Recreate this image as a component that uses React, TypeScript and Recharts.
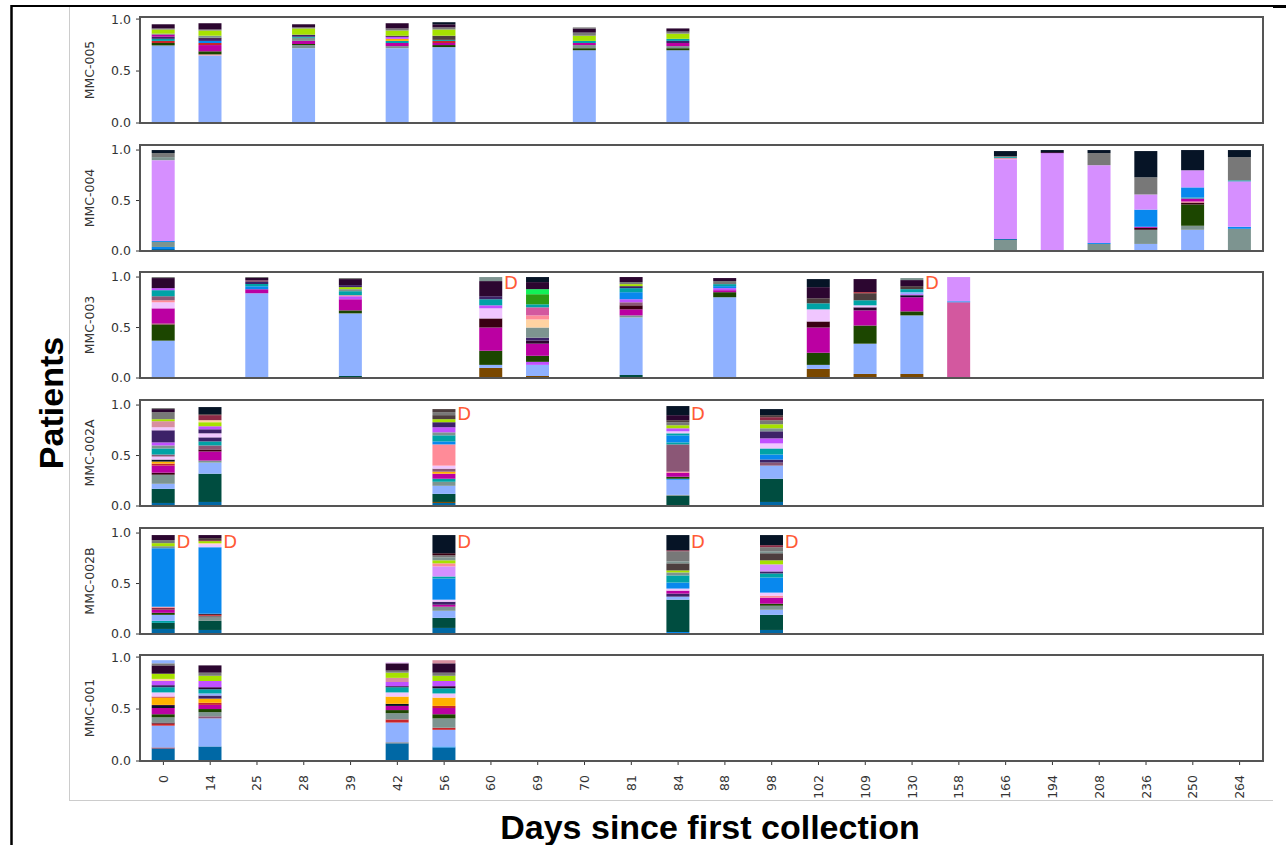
import { BarChart, Bar, XAxis, YAxis, Cell, ReferenceDot } from "recharts";

const days = ["0", "14", "25", "28", "39", "42", "56", "60", "69", "70", "81", "84", "88", "98", "102", "109", "130", "158", "166", "194", "208", "236", "250", "264"];

// one colour per taxon key
const taxonColors: Record<string, string> = {
  lb: "#8fb1ff", li: "#d68fff", nv: "#061426", gy: "#787878", gt: "#7d9490",
  bl: "#0888ee", dg: "#1c4600", mg: "#bb00a2", dp: "#2c0630", lm: "#a6e100",
  or: "#ffb100", tl: "#00a3a6", sp: "#ff8b98", mv: "#8b5776", dt: "#004d40",
  sb: "#0068a5", lp: "#f0c6ff", br: "#7a4800", hp: "#d3589f", gr: "#2c9c14",
  bg: "#11f258", pe: "#ffd3a2", mr: "#8e2a46", rd: "#c8262c", vi: "#c050ff",
  pu: "#3d2268", db: "#4d3e3e", rp: "#d88ea0", mk: "#3a0012",
};

type Seg = [string, number];
type Sample = { day: string; segs: Seg[] };

const mmc005: Sample[] = [
  { day: "0", segs: [["lb", .74], ["gt", .01], ["dg", .02], ["rd", .02], ["tl", .02], ["pu", .02], ["mg", .02], ["gy", .01], ["lm", .04], ["gy", .01], ["dp", .04]] },
  { day: "14", segs: [["lb", .65], ["sp", .01], ["dg", .03], ["mg", .06], ["rd", .02], ["bl", .02], ["pu", .02], ["dp", .01], ["gt", .02], ["lm", .05], ["gy", .01], ["dp", .06]] },
  { day: "28", segs: [["lb", .72], ["gt", .03], ["dg", .01], ["mg", .03], ["gt", .03], ["tl", .01], ["pu", .02], ["lm", .06], ["gy", .01], ["dp", .03]] },
  { day: "42", segs: [["lb", .72], ["gt", .02], ["mg", .03], ["tl", .02], ["or", .02], ["vi", .02], ["dp", .01], ["lm", .05], ["gy", .02], ["dp", .05]] },
  { day: "56", segs: [["lb", .73], ["dg", .02], ["mg", .02], ["rd", .02], ["tl", .01], ["db", .04], ["lm", .06], ["gy", .02], ["dp", .03], ["nv", .02]] },
  { day: "70", segs: [["lb", .70], ["dg", .02], ["gt", .03], ["mg", .02], ["tl", .02], ["lm", .05], ["gy", .03], ["dp", .04], ["gy", .01]] },
  { day: "84", segs: [["lb", .70], ["dg", .02], ["gt", .02], ["mg", .03], ["pu", .02], ["tl", .02], ["lm", .05], ["gy", .02], ["dp", .03]] },
];

const mmc004: Sample[] = [
  { day: "0", segs: [["sb", .02], ["bl", .02], ["gt", .05], ["bl", .01], ["li", .80], ["gt", .03], ["gy", .04], ["nv", .03]] },
  { day: "166", segs: [["gt", .11], ["sb", .01], ["li", .79], ["sp", .01], ["tl", .01], ["gy", .01], ["nv", .05]] },
  { day: "194", segs: [["li", .97], ["dp", .01], ["nv", .02]] },
  { day: "208", segs: [["gt", .07], ["bl", .01], ["li", .77], ["gy", .12], ["nv", .03]] },
  { day: "236", segs: [["bl", .01], ["lb", .06], ["gt", .14], ["mk", .02], ["mg", .01], ["bl", .17], ["li", .15], ["gy", .17], ["nv", .26]] },
  { day: "250", segs: [["lb", .21], ["gt", .04], ["dg", .21], ["mk", .02], ["sp", .01], ["mg", .03], ["tl", .01], ["bl", .10], ["li", .17], ["nv", .20]] },
  { day: "264", segs: [["dt", .01], ["gt", .21], ["bl", .02], ["li", .45], ["tl", .01], ["gy", .23], ["nv", .07]] },
];

const mmc003: Sample[] = [
  { day: "0", segs: [["lb", .37], ["dg", .16], ["mr", .01], ["mg", .15], ["lp", .06], ["sp", .02], ["mv", .04], ["tl", .06], ["vi", .02], ["dp", .10], ["gy", .01]] },
  { day: "25", segs: [["br", .01], ["lb", .83], ["mg", .04], ["bl", .03], ["tl", .02], ["pu", .02], ["mv", .02], ["dp", .02], ["gy", .01]] },
  { day: "39", segs: [["dt", .02], ["lb", .62], ["dg", .03], ["mg", .11], ["vi", .03], ["sp", .01], ["tl", .04], ["gt", .02], ["lm", .02], ["pu", .02], ["dp", .06], ["gy", .01]] },
  { day: "60", segs: [["br", .10], ["lb", .03], ["dg", .14], ["mg", .23], ["mk", .09], ["lp", .10], ["vi", .03], ["tl", .06], ["pu", .03], ["dp", .15], ["gt", .04]] },
  { day: "69", segs: [["br", .02], ["lb", .11], ["vi", .03], ["dg", .06], ["mg", .12], ["dp", .03], ["pu", .03], ["gt", .10], ["pe", .08], ["sp", .04], ["hp", .08], ["tl", .03], ["gr", .10], ["bg", .05], ["dp", .07], ["nv", .05]] },
  { day: "81", segs: [["dt", .03], ["lb", .57], ["gt", .02], ["mg", .06], ["mk", .04], ["mv", .03], ["vi", .03], ["bl", .07], ["tl", .04], ["pu", .02], ["lm", .02], ["gy", .02], ["dp", .05]] },
  { day: "88", segs: [["lb", .80], ["dg", .05], ["mg", .02], ["vi", .02], ["bl", .02], ["tl", .02], ["gy", .03], ["dp", .03]] },
  { day: "102", segs: [["br", .09], ["lb", .04], ["dg", .12], ["mg", .25], ["mk", .06], ["lp", .12], ["tl", .06], ["db", .05], ["dp", .11], ["nv", .08]] },
  { day: "109", segs: [["br", .04], ["lb", .30], ["dg", .18], ["mg", .15], ["dp", .03], ["lp", .02], ["tl", .05], ["db", .07], ["rd", .01], ["dp", .13]] },
  { day: "130", segs: [["br", .04], ["lb", .58], ["dg", .04], ["mg", .14], ["nv", .02], ["vi", .01], ["lb", .02], ["tl", .03], ["db", .03], ["dp", .06], ["gt", .02]] },
  { day: "158", segs: [["hp", .75], ["bl", .01], ["li", .24]] },
];

const mmc002a: Sample[] = [
  { day: "0", segs: [["sb", .03], ["dt", .14], ["lb", .05], ["gt", .09], ["mk", .02], ["mg", .07], ["rd", .02], ["or", .02], ["nv", .02], ["lp", .03], ["mv", .02], ["tl", .06], ["gt", .03], ["vi", .03], ["pu", .12], ["lp", .03], ["rp", .06], ["lm", .02], ["gy", .07], ["dp", .03], ["gy", .01]] },
  { day: "14", segs: [["sb", .04], ["dt", .28], ["lb", .11], ["gt", .02], ["mg", .09], ["mk", .02], ["mv", .04], ["tl", .04], ["pu", .04], ["lp", .04], ["pu", .04], ["vi", .03], ["lm", .04], ["pe", .02], ["mr", .05], ["db", .01], ["nv", .07]] },
  { day: "56", segs: [["sb", .03], ["br", .01], ["dt", .08], ["lb", .08], ["gt", .04], ["tl", .03], ["mg", .05], ["or", .02], ["mv", .03], ["lp", .03], ["sp", .21], ["bl", .03], ["tl", .06], ["gt", .03], ["vi", .05], ["pu", .05], ["lm", .03], ["db", .04], ["gy", .03], ["db", .03]] },
  { day: "84", segs: [["sb", .01], ["dt", .09], ["gt", .01], ["lb", .15], ["bl", .01], ["dg", .02], ["mg", .04], ["sp", .01], ["mv", .27], ["tl", .02], ["bl", .07], ["tl", .02], ["lp", .02], ["vi", .03], ["lm", .03], ["gy", .03], ["db", .02], ["dp", .05], ["nv", .09]] },
  { day: "98", segs: [["sb", .04], ["dt", .23], ["lb", .13], ["mv", .03], ["pu", .03], ["bl", .05], ["tl", .06], ["lp", .05], ["vi", .05], ["pu", .07], ["gt", .03], ["lm", .04], ["gy", .04], ["mr", .03], ["db", .02], ["nv", .06]] },
];

const mmc002b: Sample[] = [
  { day: "0", segs: [["sb", .05], ["dt", .06], ["tl", .02], ["lb", .06], ["dg", .02], ["mg", .03], ["mr", .02], ["sp", .01], ["bl", .58], ["gt", .02], ["lm", .03], ["gy", .03], ["dp", .05]] },
  { day: "14", segs: [["sb", .04], ["dt", .09], ["gt", .03], ["gy", .02], ["rd", .01], ["mk", .01], ["bl", .66], ["lp", .03], ["pe", .01], ["lm", .02], ["mr", .01], ["db", .02], ["dp", .03]] },
  { day: "56", segs: [["sb", .06], ["dt", .10], ["lb", .07], ["gt", .04], ["mg", .02], ["pu", .03], ["lp", .02], ["bl", .21], ["tl", .02], ["li", .10], ["sp", .03], ["lm", .03], ["gt", .03], ["gy", .02], ["mk", .02], ["nv", .18]] },
  { day: "84", segs: [["bl", .02], ["dt", .32], ["lb", .03], ["pu", .03], ["mg", .03], ["lp", .02], ["bl", .06], ["tl", .07], ["gt", .03], ["lm", .02], ["db", .07], ["gt", .02], ["gy", .10], ["mr", .01], ["nv", .15]] },
  { day: "98", segs: [["sb", .04], ["dt", .15], ["lb", .05], ["gt", .04], ["dg", .02], ["mg", .06], ["sp", .02], ["lp", .03], ["bl", .15], ["tl", .04], ["pu", .02], ["li", .07], ["lm", .04], ["db", .07], ["gt", .02], ["gy", .04], ["mr", .02], ["nv", .10]] },
];

const mmc001: Sample[] = [
  { day: "0", segs: [["sb", .12], ["mr", .01], ["lb", .21], ["rd", .02], ["mk", .01], ["gt", .05], ["dg", .03], ["mg", .06], ["nv", .02], ["dp", .01], ["or", .07], ["rd", .01], ["lp", .04], ["tl", .05], ["pu", .02], ["vi", .04], ["pe", .02], ["lm", .05], ["dp", .08], ["gy", .02], ["lb", .03]] },
  { day: "14", segs: [["sb", .14], ["lb", .27], ["mv", .02], ["gt", .04], ["dg", .03], ["mg", .04], ["rd", .02], ["or", .04], ["pu", .03], ["lb", .02], ["tl", .04], ["dp", .02], ["vi", .06], ["lm", .05], ["gy", .03], ["dp", .07]] },
  { day: "42", segs: [["sb", .17], ["gy", .01], ["lb", .19], ["rd", .03], ["gt", .06], ["dg", .03], ["mg", .04], ["nv", .02], ["or", .07], ["lp", .04], ["tl", .05], ["dp", .01], ["vi", .04], ["rp", .04], ["lm", .05], ["gy", .02], ["dp", .07], ["lp", .01]] },
  { day: "56", segs: [["sb", .13], ["bl", .01], ["lb", .16], ["rd", .02], ["gt", .09], ["dg", .04], ["mg", .06], ["rd", .02], ["or", .08], ["lp", .04], ["tl", .05], ["dp", .02], ["vi", .05], ["lm", .05], ["gy", .03], ["dp", .09], ["rp", .03]] },
];

// days flagged "D"
const dMarks003 = ["60", "130"];
const dMarks002a = ["56", "84"];
const dMarks002b = ["0", "14", "56", "84", "98"];

const PH = 106;
const MT = 10;
const panelTops = [17, 145, 272, 400, 528, 655];

const panels = [
  { name: "MMC-005", samples: mmc005, marks: [] as string[], max: 1.02, markY: 0.95 },
  { name: "MMC-004", samples: mmc004, marks: [] as string[], max: 1.05, markY: 0.95 },
  { name: "MMC-003", samples: mmc003, marks: dMarks003, max: 1.05, markY: 0.95 },
  { name: "MMC-002A", samples: mmc002a, marks: dMarks002a, max: 1.05, markY: 0.92 },
  { name: "MMC-002B", samples: mmc002b, marks: dMarks002b, max: 1.05, markY: 0.92 },
  { name: "MMC-001", samples: mmc001, marks: [] as string[], max: 1.02, markY: 0.95 },
];

function buildRows(samples: Sample[]) {
  const n = Math.max(...samples.map((s) => s.segs.length));
  const rows = days.map((day) => {
    const s = samples.find((x) => x.day === day);
    const row: any = { day };
    for (let i = 0; i < n; i++) {
      const seg = s ? s.segs[i] : undefined;
      row[`v${i}`] = seg ? seg[1] : 0;
      row[`k${i}`] = seg ? seg[0] : null;
    }
    return row;
  });
  return { rows, n };
}

const DayTick = (props: any) => {
  const { x, y, payload } = props;
  return (
    <text
      transform={`translate(${x + 4.5},${y + 8}) rotate(-90)`}
      textAnchor="end"
      fontSize={12.5}
      fill="#333"
      fontFamily="DejaVu Sans"
    >
      {payload.value}
    </text>
  );
};

function Panel({ p, top, showLabels }: { p: (typeof panels)[number]; top: number; showLabels: boolean }) {
  const { rows, n } = buildRows(p.samples);
  const xh = showLabels ? 44 : 6;
  const h = MT + PH + xh;
  const bars = [];
  for (let i = 0; i < n; i++) {
    bars.push(
      <Bar key={i} dataKey={`v${i}`} stackId="s" isAnimationActive={false}>
        {rows.map((r: any, j: number) => (
          <Cell key={j} fill={r[`k${i}`] ? taxonColors[r[`k${i}`]] : "none"} />
        ))}
      </Bar>
    );
  }
  return (
    <div style={{ position: "absolute", left: 0, top: top - MT, width: 1286, height: h }}>
      <BarChart
        width={1286}
        height={h}
        data={rows}
        margin={{ top: MT, right: 23, bottom: 0, left: 100 }}
        barCategoryGap="25%"
      >
        <XAxis
          dataKey="day"
          interval={0}
          height={xh}
          tickSize={4}
          axisLine={false}
          tickLine={{ stroke: "#333" }}
          tick={showLabels ? <DayTick /> : false}
        />
        <YAxis
          type="number"
          domain={[0, p.max]}
          ticks={[0, 0.5, 1]}
          interval={0}
          width={40}
          tickSize={4}
          tickMargin={5}
          axisLine={false}
          tickLine={{ stroke: "#333" }}
          tick={{ fontSize: 12.5, fill: "#333", fontFamily: "DejaVu Sans" }}
          tickFormatter={(v: number) => v.toFixed(1)}
          label={{
            content: () => (
              <text
                x={94}
                y={MT + PH / 2}
                transform={`rotate(-90 94 ${MT + PH / 2})`}
                textAnchor="middle"
                fontSize={12.5}
                fill="#333"
                fontFamily="DejaVu Sans"
              >
                {p.name}
              </text>
            ),
          }}
        />
        {bars}
        {p.marks.map((d) => (
          <ReferenceDot
            key={d}
            x={d}
            y={p.markY}
            r={0}
            ifOverflow="visible"
            shape={(sp: any) => (
              <text x={sp.cx + 13} y={sp.cy + 7} fontSize={18} fill="#ff5a36" fontFamily="DejaVu Sans">
                D
              </text>
            )}
          />
        ))}
      </BarChart>
      <div
        style={{
          position: "absolute",
          left: 139,
          top: MT - 1,
          width: 1125,
          height: PH + 2,
          border: "2px solid #555",
          boxSizing: "border-box",
          pointerEvents: "none",
        }}
      />
    </div>
  );
}

export default function App() {
  return (
    <div style={{ position: "absolute", left: 0, top: 0, width: 1286, height: 845, background: "#fff", overflow: "hidden" }}>
      <svg width={1286} height={845} style={{ position: "absolute", left: 0, top: 0 }}>
        <line x1={11.5} y1={5} x2={11.5} y2={845} stroke="#000" strokeWidth={2.5} />
        <line x1={11} y1={6} x2={1274} y2={6} stroke="#000" strokeWidth={1.8} />
        <rect x={1273} y={5} width={13} height={3} fill="#000" />
        <line x1={69.5} y1={7} x2={69.5} y2={800} stroke="#ccc" strokeWidth={1} />
        <line x1={69} y1={800.5} x2={1273} y2={800.5} stroke="#ccc" strokeWidth={1} />
        <text
          transform="translate(63,403) rotate(-90)"
          textAnchor="middle"
          fontFamily="Liberation Sans"
          fontWeight="bold"
          fontSize={34}
          fill="#000"
        >
          Patients
        </text>
        <text x={710} y={839} textAnchor="middle" fontFamily="Liberation Sans" fontWeight="bold" fontSize={34} fill="#000">
          Days since first collection
        </text>
      </svg>
      {panels.map((p, i) => (
        <Panel key={p.name} p={p} top={panelTops[i]} showLabels={i === panels.length - 1} />
      ))}
    </div>
  );
}
